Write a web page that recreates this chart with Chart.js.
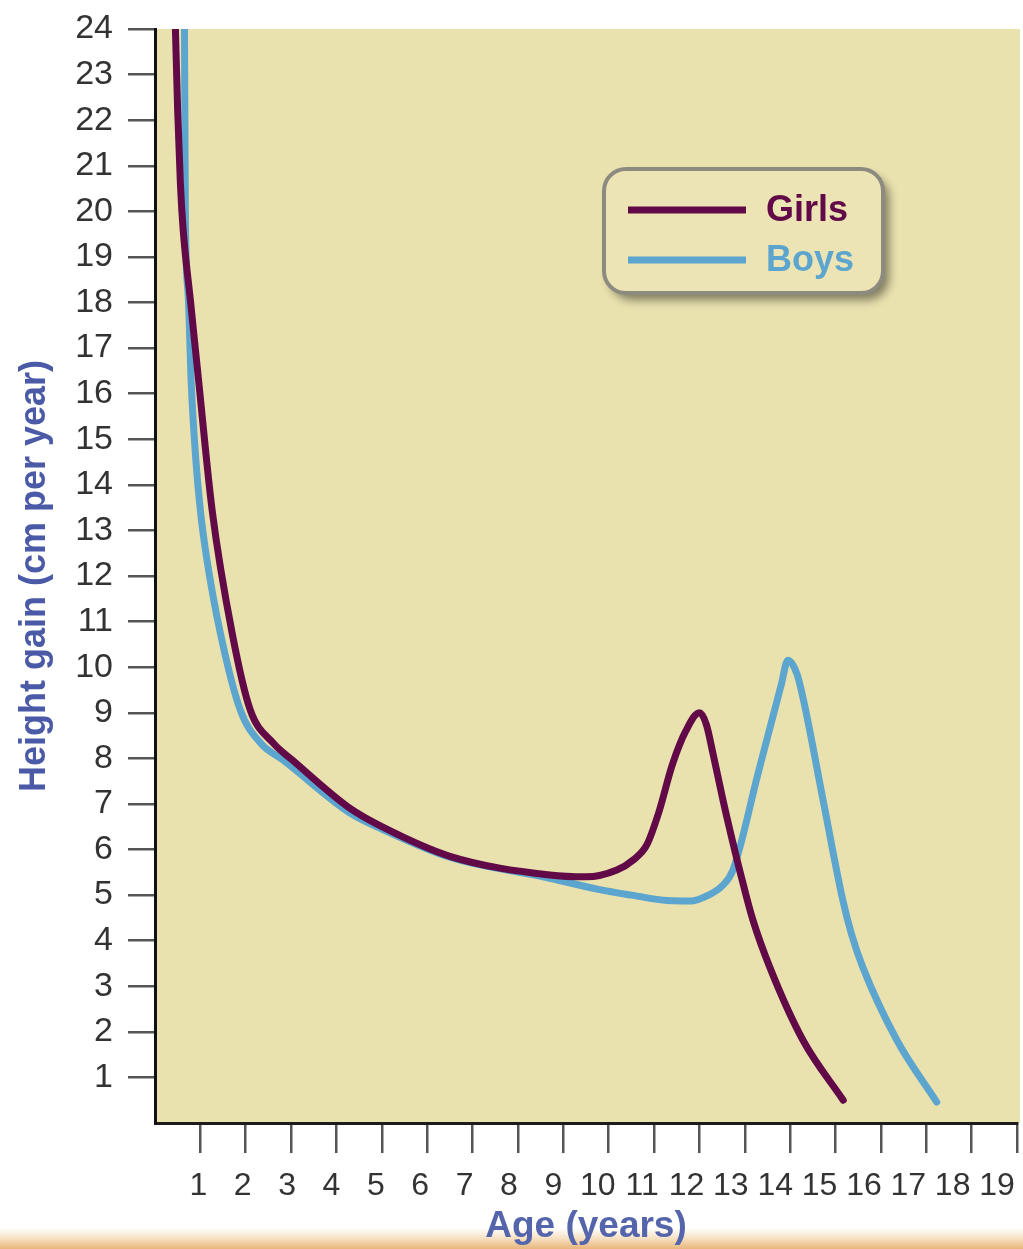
<!DOCTYPE html>
<html>
<head>
<meta charset="utf-8">
<script src="https://cdn.jsdelivr.net/npm/chart.js@4.4.1/dist/chart.umd.min.js"></script>
<style>
html,body{margin:0;padding:0;}
body{width:1023px;height:1249px;overflow:hidden;background:linear-gradient(to bottom,#ffffff 0px,#ffffff 1228px,#f6e2c4 1238px,#e9b57b 1249px);}
canvas{display:block;}
</style>
</head>
<body>
<canvas id="c" width="1023" height="1249"></canvas>
<script>
// ---- data ----
const xTickValues = [1,2,3,4,5,6,7,8,9,10,11,12,13,14,15,16,17,18,19];
const xTickLabels = ['1','2','3','4','5','6','7','8','9','10','11','12','13','14','15','16','17','18','19'];
const yTickValues = [1,2,3,4,5,6,7,8,9,10,11,12,13,14,15,16,17,18,19,20,21,22,23,24];
const yTickLabels = ['1','2','3','4','5','6','7','8','9','10','11','12','13','14','15','16','17','18','19','20','21','22','23','24'];

const seriesNames = ['Girls', 'Boys'];

const girlsAge  = [0.45, 0.50, 0.56, 0.62, 0.78, 0.96, 1.26, 1.70, 2.10, 2.61, 3.03, 4.30, 5.00, 6.50, 8.70, 9.50, 10.18, 10.54, 10.84, 11.10, 11.40, 11.70, 12.00, 12.15, 12.30, 12.52, 12.74, 12.96, 13.18, 13.55, 14.28, 15.17];
const girlsGain = [24.0, 22.2, 20.6, 19.6, 18.05, 16.3, 13.44, 10.75, 9.06, 8.33, 7.96, 6.90, 6.50, 5.85, 5.44, 5.40, 5.55, 5.77, 6.10, 6.80, 7.85, 8.60, 9.00, 8.75, 8.10, 7.08, 6.14, 5.26, 4.45, 3.42, 1.82, 0.50];

const boysAge  = [0.65, 0.67, 0.73, 0.80, 0.90, 1.00, 1.13, 1.44, 1.88, 2.33, 2.83, 4.30, 5.00, 6.50, 8.70, 9.80, 10.50, 11.30, 11.80, 12.20, 12.50, 12.74, 13.30, 13.80, 13.95, 14.15, 14.30, 14.73, 15.16, 15.35, 15.60, 16.35, 17.23];
const boysGain = [24.0, 19.8, 18.2, 16.2, 14.55, 13.44, 12.45, 10.75, 9.06, 8.33, 7.96, 6.80, 6.45, 5.83, 5.37, 5.12, 5.00, 4.88, 4.87, 5.00, 5.20, 5.55, 7.70, 9.60, 10.15, 9.85, 9.25, 7.06, 4.89, 4.15, 3.42, 1.82, 0.46];

// ---- styles ----
const GIRLS_COLOR = '#610a47';
const BOYS_COLOR = '#5ba5cf';
const PLOT_BG = '#e9e1ae';
const FONT = "'Liberation Sans', Arial, Helvetica, sans-serif";

const toPoints = (xs, ys) => xs.map((x, i) => ({x: x, y: ys[i]}));

const bgPlugin = {
  id: 'plotBg',
  beforeDraw(chart) {
    const a = chart.chartArea, ctx = chart.ctx;
    ctx.save();
    ctx.fillStyle = PLOT_BG;
    ctx.fillRect(a.left, a.top, a.right - a.left + 3, a.bottom - a.top);
    ctx.restore();
  }
};

const legendPlugin = {
  id: 'boxLegend',
  afterDraw(chart) {
    const ctx = chart.ctx;
    const bx = 604, by = 169, bw = 279, bh = 124;
    ctx.save();
    ctx.shadowColor = 'rgba(0,0,0,0.45)';
    ctx.shadowBlur = 10;
    ctx.shadowOffsetX = 6;
    ctx.shadowOffsetY = 7;
    ctx.beginPath();
    ctx.roundRect(bx, by, bw, bh, 22);
    ctx.fillStyle = '#ece4b4';
    ctx.fill();
    ctx.shadowColor = 'transparent';
    ctx.lineWidth = 4;
    ctx.strokeStyle = '#8d8b80';
    ctx.stroke();
    const rows = [210, 260];
    chart.data.datasets.forEach((ds, i) => {
      const y = rows[i];
      ctx.beginPath();
      ctx.moveTo(628, y);
      ctx.lineTo(746, y);
      ctx.lineWidth = 7;
      ctx.lineCap = 'butt';
      ctx.strokeStyle = ds.borderColor;
      ctx.stroke();
      ctx.fillStyle = ds.borderColor;
      ctx.font = 'bold 36px ' + FONT;
      ctx.textBaseline = 'middle';
      ctx.textAlign = 'left';
      ctx.fillText(ds.label, 766, y + 1);
    });
    ctx.restore();
  }
};

const setTicks = (vals) => (scale) => { scale.ticks = vals.map(v => ({value: v})); };

new Chart(document.getElementById('c'), {
  type: 'line',
  data: {
    datasets: [
      {label: seriesNames[0], data: toPoints(girlsAge, girlsGain), borderColor: GIRLS_COLOR, backgroundColor: GIRLS_COLOR,
       borderWidth: 7, pointRadius: 0, cubicInterpolationMode: 'monotone', fill: false,
       borderCapStyle: 'round', borderJoinStyle: 'round', xAxisID: 'x', yAxisID: 'y'},
      {label: seriesNames[1], data: toPoints(boysAge, boysGain), borderColor: BOYS_COLOR, backgroundColor: BOYS_COLOR,
       borderWidth: 7, pointRadius: 0, cubicInterpolationMode: 'monotone', fill: false,
       borderCapStyle: 'round', borderJoinStyle: 'round', xAxisID: 'x', yAxisID: 'y'}
    ]
  },
  options: {
    responsive: false,
    animation: false,
    events: [],
    layout: {padding: {top: 29, right: 6, left: 0, bottom: 0}},
    plugins: {legend: {display: false}, tooltip: {enabled: false}},
    scales: {
      x: {
        type: 'linear', position: 'bottom', min: 0, max: 19, weight: 0,
        afterBuildTicks: setTicks(xTickValues),
        afterFit: (s) => { s.height = 32; s.paddingLeft = 0; s.paddingRight = 0; },
        ticks: {display: false},
        grid: {drawOnChartArea: false, drawTicks: true, tickLength: 30, color: '#555', tickColor: '#555', tickWidth: 2.5, lineWidth: 2.5},
        border: {display: true, color: '#1c1c1c', width: 3}
      },
      xl: {
        type: 'linear', position: 'bottom', min: 0.0225, max: 19.45, weight: 1,
        afterBuildTicks: setTicks(xTickValues),
        afterFit: (s) => { s.height = 94; s.paddingLeft = 0; s.paddingRight = 0; },
        ticks: {callback: (v, i) => xTickLabels[i], font: {family: FONT, size: 32}, color: '#333', padding: 12, autoSkip: false, maxRotation: 0, minRotation: 0},
        grid: {display: false, drawTicks: false},
        border: {display: false},
        title: {display: true, text: 'Age (years)', color: '#5565ab', font: {family: FONT, size: 37, weight: 'bold'}, padding: {top: 0, bottom: 0}}
      },
      y: {
        type: 'linear', position: 'left', min: 0, max: 24,
        afterBuildTicks: setTicks(yTickValues),
        afterFit: (s) => { s.width = 155; s.paddingTop = 0; s.paddingBottom = 0; },
        ticks: {callback: (v, i) => yTickLabels[i], font: {family: FONT, size: 34}, color: '#333', padding: 15, autoSkip: false},
        grid: {drawOnChartArea: false, drawTicks: true, tickLength: 27, color: '#555', tickColor: '#555', tickWidth: 2.5, lineWidth: 2.5},
        border: {display: true, color: '#111', width: 3},
        title: {display: true, text: 'Height gain (cm per year)', color: '#4b5aa6', font: {family: FONT, size: 36, weight: 'bold'}, padding: {top: 13, bottom: 0}}
      }
    }
  },
  plugins: [bgPlugin, legendPlugin]
});
</script>
</body>
</html>
